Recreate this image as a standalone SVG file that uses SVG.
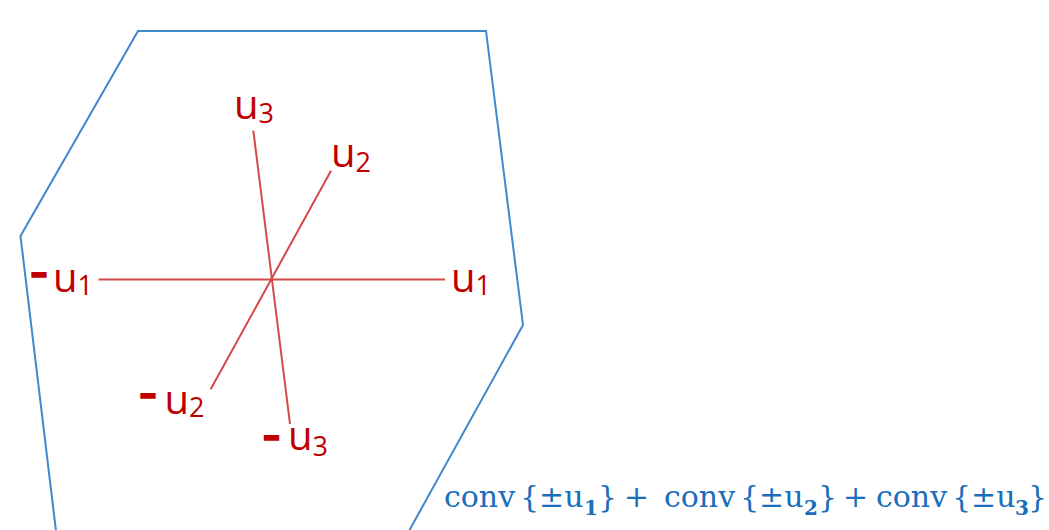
<svg xmlns="http://www.w3.org/2000/svg" width="1049" height="530" viewBox="0 0 1049 530">
<style>
.poly{fill:none;stroke:#3f88cc;stroke-width:2;stroke-linejoin:miter}
.ax{stroke:#d64848;stroke-width:2;fill:none}
.lbl{font-family:"Open Sans","Noto Sans",sans-serif;font-size:40px;fill:#c00000}
.sub{font-size:27px}
.neg{font-weight:800;font-size:32px;stroke:#c00000;stroke-width:1.6}
.eq{font-family:"DejaVu Serif","Liberation Serif",serif;font-size:30px;fill:#1a6db8}
.eqs{font-size:20px;font-weight:bold}
</style>
<rect width="1049" height="530" fill="#ffffff"/>
<g id="zonotope">
<polyline class="poly" points="56,531 20.5,236 138,31 486,31 523,325 409,531"/>
</g>
<g id="connectors">
<line class="ax" x1="98.5" y1="279.5" x2="445" y2="279.5"/>
<line class="ax" x1="331" y1="170.7" x2="210.7" y2="389.3"/>
<line class="ax" x1="253.3" y1="130.7" x2="290" y2="424"/>
</g>
<g id="label-u3"><text class="lbl" x="234" y="119">u<tspan class="sub" dy="4">3</tspan></text></g>
<g id="label-u2"><text class="lbl" x="331" y="167">u<tspan class="sub" dy="4.5">2</tspan></text></g>
<g id="label-u1"><text class="lbl" x="451" y="292">u<tspan class="sub" dy="3">1</tspan></text></g>
<g id="label-neg-u1"><text class="lbl" x="31" y="283"><tspan class="neg">–</tspan><tspan x="53" y="292">u</tspan><tspan class="sub" dy="3">1</tspan></text></g>
<g id="label-neg-u2"><text class="lbl" x="140" y="404"><tspan class="neg">–</tspan><tspan x="164.5" y="413.5">u</tspan><tspan class="sub" dy="3.5">2</tspan></text></g>
<g id="label-neg-u3"><text class="lbl" x="263.5" y="446"><tspan class="neg">–</tspan><tspan x="288" y="450">u</tspan><tspan class="sub" dy="6">3</tspan></text></g>
<g id="formula">
<text class="eq" y="507"><tspan x="444">conv</tspan><tspan x="520">{±u</tspan><tspan class="eqs" x="584" dy="8">1</tspan><tspan x="598" dy="-8">}</tspan><tspan x="624">+</tspan><tspan x="664">conv</tspan><tspan x="740">{±u</tspan><tspan class="eqs" x="804" dy="8">2</tspan><tspan x="818" dy="-8">}</tspan><tspan x="843">+</tspan><tspan x="876">conv</tspan><tspan x="952">{±u</tspan><tspan class="eqs" x="1015" dy="8">3</tspan><tspan x="1028" dy="-8">}</tspan></text>
</g>
</svg>
